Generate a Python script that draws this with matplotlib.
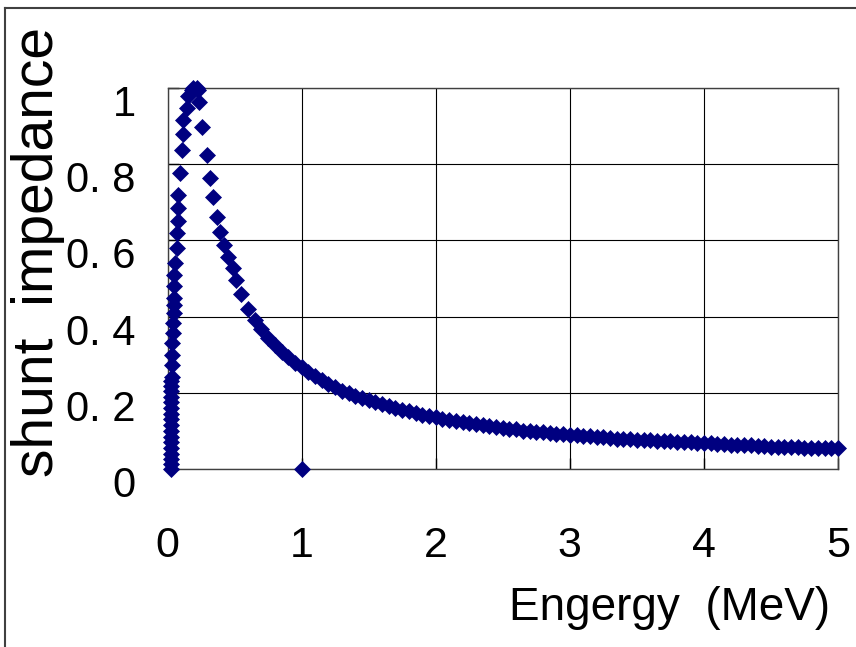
import matplotlib
matplotlib.use('Agg')
import matplotlib.pyplot as plt
from matplotlib import font_manager
from matplotlib.lines import Line2D
from matplotlib.transforms import ScaledTranslation


def pick_font(names):
    for n in names:
        try:
            font_manager.findfont(n, fallback_to_default=False)
            return n
        except Exception:
            pass
    return 'DejaVu Sans'


main_font = pick_font(['Liberation Sans', 'Arial'])

# steep rise near zero energy, then the peak and the start of the decay
rise_x = [0.024, 0.024, 0.024, 0.024, 0.025, 0.025, 0.025, 0.025, 0.025, 0.026,
          0.026, 0.026, 0.026, 0.027, 0.027, 0.027, 0.028,
          0.031, 0.033, 0.035, 0.037, 0.040, 0.042, 0.045, 0.047,
          0.048, 0.048, 0.050, 0.056, 0.069, 0.069, 0.080, 0.080, 0.080,
          0.093, 0.106, 0.118, 0.118, 0.143, 0.155, 0.180, 0.192,
          0.217, 0.229, 0.237, 0.255, 0.292, 0.316, 0.341, 0.366,
          0.391, 0.420, 0.453, 0.485, 0.510]
rise_y = [0.0, 0.012, 0.025, 0.04, 0.055, 0.07, 0.085, 0.10, 0.115, 0.13,
          0.145, 0.16, 0.175, 0.19, 0.205, 0.218, 0.23,
          0.242, 0.273, 0.299, 0.33, 0.356, 0.383, 0.409, 0.43,
          0.45, 0.48, 0.51, 0.54, 0.58, 0.62, 0.65, 0.685, 0.72,
          0.777, 0.837, 0.88, 0.915, 0.947, 0.98, 0.995, 1.0,
          1.0, 0.995, 0.963, 0.898, 0.824, 0.764, 0.714, 0.661,
          0.622, 0.588, 0.556, 0.528, 0.496]

# long tail, sampled every 0.05 MeV
tail_x = [round(0.55 + 0.05 * i, 2) for i in range(90)]
tail_y = [0.460, 0.420, 0.390, 0.368, 0.345, 0.325, 0.308, 0.293, 0.279, 0.267,
          0.255, 0.244, 0.233, 0.223, 0.214, 0.206, 0.199, 0.192, 0.186, 0.180,
          0.175, 0.170, 0.165, 0.160, 0.156, 0.152, 0.147, 0.143, 0.139, 0.136,
          0.132, 0.129, 0.126, 0.123, 0.120, 0.117, 0.115, 0.112, 0.110, 0.108,
          0.106, 0.104, 0.101, 0.099, 0.098, 0.096, 0.094, 0.093, 0.091, 0.090,
          0.088, 0.087, 0.086, 0.085, 0.083, 0.082, 0.080, 0.079, 0.078, 0.077,
          0.076, 0.075, 0.074, 0.074, 0.073, 0.072, 0.071, 0.070, 0.068, 0.067,
          0.067, 0.066, 0.065, 0.064, 0.064, 0.063, 0.062, 0.061, 0.060, 0.059,
          0.058, 0.058, 0.057, 0.057, 0.056, 0.056, 0.055, 0.055, 0.054, 0.054]

# stray point at (1, 0)
odd_x = [1.0]
odd_y = [0.0]

x_ticks = [0, 1, 2, 3, 4, 5]
x_labels = ['0', '1', '2', '3', '4', '5']
y_ticks = [0, 0.2, 0.4, 0.6, 0.8, 1.0]
y_labels = ['0', '0. 2', '0. 4', '0. 6', '0. 8', '1']

energy = rise_x + tail_x + odd_x
shunt = rise_y + tail_y + odd_y

fig = plt.figure(figsize=(8.56, 6.47), dpi=100)
ax = fig.add_axes([0.1957, 0.2751, 0.7833, 0.5889])

ax.plot(energy, shunt, linestyle='none', marker='D', ms=8.4,
        color='#000080', mec='#000080', mew=0.5, clip_on=False, zorder=3)

ax.set_xlim(0, 5)
ax.set_ylim(0, 1)
ax.set_xticks(x_ticks)
ax.set_xticklabels(x_labels, fontsize=31, family=main_font)
ax.set_yticks(y_ticks)
ax.set_yticklabels(y_labels, fontsize=30, family=main_font)
ax.tick_params(axis='both', direction='in', length=8, width=1, color='black')
ax.tick_params(axis='x', pad=41)
ax.tick_params(axis='y', pad=23)

ax.grid(True, color='black', linewidth=0.8)
for s in ax.spines.values():
    s.set_color('#404040')
    s.set_linewidth(1.0)

# y labels sit a little below their grid lines
shift = ScaledTranslation(0, -0.17, fig.dpi_scale_trans)
for lab in ax.get_yticklabels():
    lab.set_va('center')
    lab.set_transform(lab.get_transform() + shift)

fig.text(670 / 856, 1 - 620 / 647, 'Engergy  (MeV)', fontsize=33,
         family=main_font, ha='center', va='baseline')
fig.text(38 / 856, 1 - 252 / 647, 'shunt  impedance', fontsize=41,
         family=main_font, rotation=90, ha='center', va='center')

# outer chart frame (left and top edges)
fig.add_artist(Line2D([5 / 856, 1], [1 - 8 / 647, 1 - 8 / 647],
                      color='#404040', linewidth=1.5))
fig.add_artist(Line2D([5 / 856, 5 / 856], [0, 1 - 8 / 647],
                      color='#404040', linewidth=1.5))

fig.savefig('out.png', dpi=100)
